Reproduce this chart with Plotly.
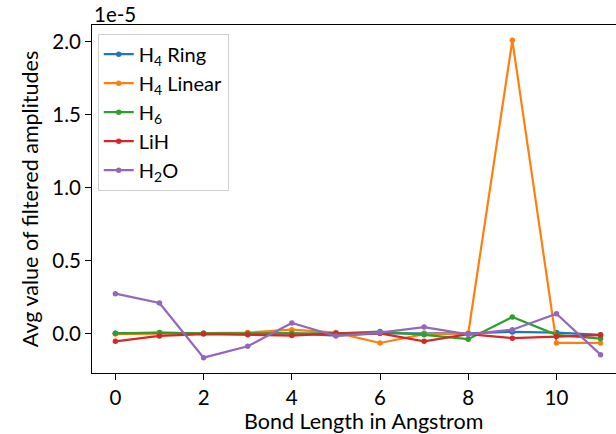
import plotly.graph_objects as go

# Bond length index (x axis)
bond_length = list(range(12))

# Average value of filtered amplitudes, in units of 1e-5
h4_ring = [0.0, 0.003, 0.0, 0.0, 0.0, -0.015, 0.0, 0.0, 0.0, 0.01, 0.005, -0.01]
h4_linear = [-0.005, 0.0, 0.0, 0.005, 0.025, 0.005, -0.066, -0.005, 0.0, 2.01, -0.066, -0.066]
h6 = [0.0, 0.005, 0.0, 0.0, 0.0, 0.0, 0.012, -0.01, -0.04, 0.112, -0.01, -0.036]
lih = [-0.055, -0.018, -0.005, -0.01, -0.015, 0.0, 0.0, -0.055, -0.005, -0.033, -0.022, -0.012]
h2o = [0.272, 0.208, -0.167, -0.089, 0.071, -0.018, 0.005, 0.043, -0.007, 0.025, 0.135, -0.146]

series = [
    ("H<sub>4</sub> Ring", h4_ring, "#1f77b4"),
    ("H<sub>4</sub> Linear", h4_linear, "#ff7f0e"),
    ("H<sub>6</sub>", h6, "#2ca02c"),
    ("LiH", lih, "#d62728"),
    ("H<sub>2</sub>O", h2o, "#9467bd"),
]

x_ticks = [0, 2, 4, 6, 8, 10]
y_ticks = [0.0, 0.5, 1.0, 1.5, 2.0]

FONT = "Lato, Open Sans, sans-serif"
TICK_FS = 20.5
TITLE_FS = 21.5
LEG_FS = 20

fig = go.Figure()
for name, vals, color in series:
    fig.add_trace(go.Scatter(
        x=bond_length, y=vals, name=name, mode="lines+markers",
        line=dict(color=color, width=2.2),
        marker=dict(color=color, size=5.5),
    ))

fig.update_layout(
    width=616, height=434,
    margin=dict(l=92, r=0, t=25, b=61),
    paper_bgcolor="white", plot_bgcolor="white",
    font=dict(family=FONT, size=TITLE_FS, color="black"),
    showlegend=True,
    legend=dict(
        x=0.011, y=0.975, xanchor="left", yanchor="top",
        bgcolor="rgba(255,255,255,0.8)", bordercolor="#d0d0d0", borderwidth=1,
        font=dict(family=FONT, size=LEG_FS, color="black"),
        itemwidth=30, tracegroupgap=0,
    ),
    xaxis=dict(
        range=[-0.53, 11.35],
        tickvals=x_ticks, ticktext=[str(v) for v in x_ticks],
        ticks="outside", ticklen=6, tickcolor="black", tickwidth=1,
        showline=True, linecolor="black", linewidth=1, mirror=True,
        showgrid=False, zeroline=False,
        tickfont=dict(family=FONT, size=TICK_FS),
    ),
    yaxis=dict(
        range=[-0.272, 2.115],
        tickvals=y_ticks, ticktext=[f"{v:.1f}" for v in y_ticks],
        ticks="outside", ticklen=6, tickcolor="black", tickwidth=1,
        showline=True, linecolor="black", linewidth=1,
        showgrid=False, zeroline=False,
        tickfont=dict(family=FONT, size=TICK_FS),
        title=dict(text="Avg value of filtered amplitudes", standoff=7,
                   font=dict(family=FONT, size=TITLE_FS)),
    ),
    annotations=[
        dict(
            text="1e-5", xref="paper", yref="paper", x=0, y=1.0,
            xanchor="left", yanchor="bottom", showarrow=False,
            font=dict(family=FONT, size=TICK_FS), yshift=-3,
        ),
        dict(
            text="Bond Length in Angstrom", xref="paper", yref="paper",
            x=0.519, y=0, xanchor="center", yanchor="top", showarrow=False,
            font=dict(family=FONT, size=TITLE_FS), yshift=-33,
        ),
    ],
)

fig.write_html("out.html")
